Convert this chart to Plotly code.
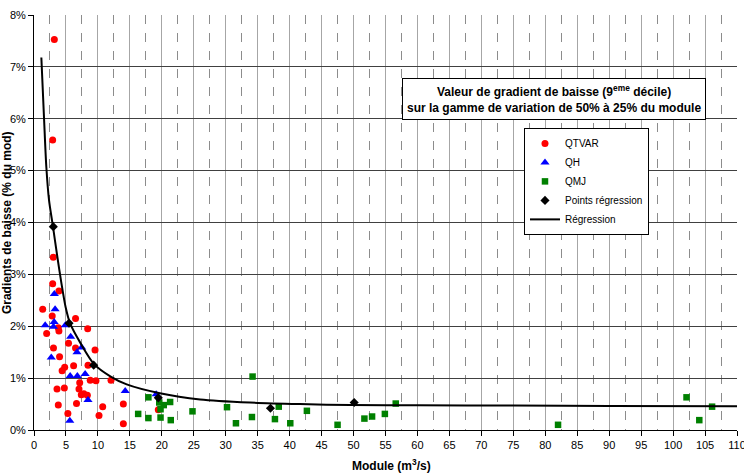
import plotly.graph_objects as go

# ---- data (values in % for y, m3/s for x) ----
qtvar_x = [3.18, 2.92, 3.02, 2.92, 3.9, 1.36, 2.85, 6.5, 1.98, 3.8, 3.9, 8.4, 5.4, 3.05, 6.5, 9.55, 4.0, 8.45,
           6.2, 4.8, 4.4, 8.8, 9.7, 12.05, 7.15, 3.6, 4.75, 7.04, 7.4, 8.35, 7.8, 3.8, 6.65, 10.75, 13.98,
           19.45, 5.3, 10.17, 13.98]
qtvar_y = [7.53, 5.59, 3.33, 2.82, 2.68, 2.33, 2.2, 2.15, 1.86, 1.97, 1.91, 1.95, 1.67, 1.58, 1.58, 1.54, 1.41, 1.25,
           1.24, 1.21, 1.14, 0.96, 0.95, 0.96, 0.91, 0.79, 0.81, 0.79, 0.68, 0.67, 0.7, 0.48, 0.51, 0.45, 0.5,
           0.39, 0.32, 0.28, 0.12]

qh_x = [3.18, 3.3, 1.75, 3.15, 3.05, 4.9, 5.74, 7.46, 6.73, 2.7, 5.66, 6.78, 8.0, 8.45, 14.27, 5.6, 19.12]
qh_y = [2.62, 2.33, 2.02, 2.08, 1.99, 2.02, 1.8, 1.59, 1.5, 1.4, 1.04, 1.04, 1.08, 0.58, 0.75, 0.18, 0.69]

qmj_x = [34.2, 17.9, 19.6, 20.3, 21.3, 19.8, 16.3, 17.9, 19.8, 21.4, 24.8, 30.2, 31.6, 34.1, 37.7, 38.3, 40.1,
         42.7, 47.5, 51.7, 52.9, 54.9, 56.6, 82.0, 102.1, 104.1, 106.1]
qmj_y = [1.03, 0.63, 0.53, 0.48, 0.54, 0.40, 0.31, 0.23, 0.24, 0.19, 0.36, 0.44, 0.13, 0.25, 0.21, 0.45, 0.13,
         0.37, 0.10, 0.22, 0.26, 0.31, 0.51, 0.10, 0.63, 0.19, 0.45]

regpts_x = [3.02, 5.48, 9.34, 19.45, 37.0, 50.1]
regpts_y = [3.92, 2.06, 1.25, 0.62, 0.42, 0.53]

regline_x = [1.15, 1.56, 1.93, 2.35, 2.97, 3.65, 4.25, 4.96, 5.63, 7.3, 9.4, 12.0, 14.5, 19.7, 26.0, 33.8,
             41.6, 49.5, 60.0, 75.0, 90.0, 110.0]
regline_y = [7.18, 6.04, 5.07, 4.43, 3.92, 3.34, 2.86, 2.36, 2.06, 1.67, 1.27, 1.03, 0.88, 0.71, 0.59, 0.53,
             0.50, 0.48, 0.475, 0.47, 0.465, 0.46]

x_ticks = list(range(0, 115, 5))
x_minor_grid = [2.5 + 5 * i for i in range(22)]
y_ticks = list(range(0, 9))

FONT = "Liberation Sans, Arial, sans-serif"

fig = go.Figure()
fig.add_trace(go.Scatter(x=qtvar_x, y=qtvar_y, mode="markers", name="QTVAR",
                         marker=dict(symbol="circle", size=7, color="#ff0000")))
fig.add_trace(go.Scatter(x=qh_x, y=qh_y, mode="markers", name="QH",
                         marker=dict(symbol="triangle-up", size=8, color="#0000ff")))
fig.add_trace(go.Scatter(x=qmj_x, y=qmj_y, mode="markers", name="QMJ",
                         marker=dict(symbol="square", size=6.5, color="#008000")))
fig.add_trace(go.Scatter(x=regpts_x, y=regpts_y, mode="markers", name="Points régression",
                         marker=dict(symbol="diamond", size=7, color="#000000")))
fig.add_trace(go.Scatter(x=regline_x, y=regline_y, mode="lines", name="Régression",
                         line=dict(color="#000000", width=2, shape="spline", smoothing=0.8)))

fig.update_layout(
    width=744, height=474,
    margin=dict(l=34, r=7, t=15, b=44, autoexpand=False),
    paper_bgcolor="white", plot_bgcolor="white",
    font=dict(family=FONT, size=11, color="#000000"),
    showlegend=True,
    legend=dict(x=0.697, y=0.728, xanchor="left", yanchor="top",
                bgcolor="white", bordercolor="#000000", borderwidth=1,
                font=dict(family=FONT, size=10, color="#000000"),
                tracegroupgap=0, itemwidth=30),
    xaxis=dict(range=[0, 110], tickvals=x_ticks, ticktext=[str(v) for v in x_ticks],
               showline=True, linecolor="#000000", linewidth=1,
               ticks="outside", ticklen=5, tickcolor="#000000",
               showgrid=True, gridcolor="#a6a6a6", gridwidth=1,
               minor=dict(tickvals=x_minor_grid, showgrid=True, gridcolor="#8c8c8c", griddash="dash",
                          gridwidth=1, ticks=""),
               ticklabeloverflow="allow", automargin=False,
               zeroline=False, tickfont=dict(size=11)),
    yaxis=dict(range=[0, 8], tickvals=y_ticks, ticktext=[f"{v}%" for v in y_ticks],
               showline=True, linecolor="#000000", linewidth=1,
               ticks="outside", ticklen=5, tickcolor="#000000",
               showgrid=True, gridcolor="#404040", gridwidth=1,
               automargin=False,
               zeroline=False, tickfont=dict(size=11)),
)

fig.add_annotation(
    x=0.74, y=0.797, xref="paper", yref="paper", xanchor="center", yanchor="middle",
    text="<b>Valeur de gradient de baisse (9<sup>eme</sup> décile)<br>sur la gamme de variation de 50% à 25% du module</b>",
    showarrow=False, align="center",
    font=dict(family=FONT, size=12, color="#000000"),
    bgcolor="white", bordercolor="#000000", borderwidth=1, borderpad=4,
)
fig.add_annotation(
    x=-0.039, y=0.50, xref="paper", yref="paper", xanchor="center", yanchor="middle",
    text="<b>Gradients de baisse (% du mod)</b>", textangle=-90, showarrow=False,
    font=dict(family=FONT, size=12, color="#000000"),
)
fig.add_annotation(
    x=0.508, y=-0.084, xref="paper", yref="paper", xanchor="center", yanchor="middle",
    text="<b>Module (m<sup>3</sup>/s)</b>", showarrow=False,
    font=dict(family=FONT, size=12, color="#000000"),
)

fig.write_html("out.html")
